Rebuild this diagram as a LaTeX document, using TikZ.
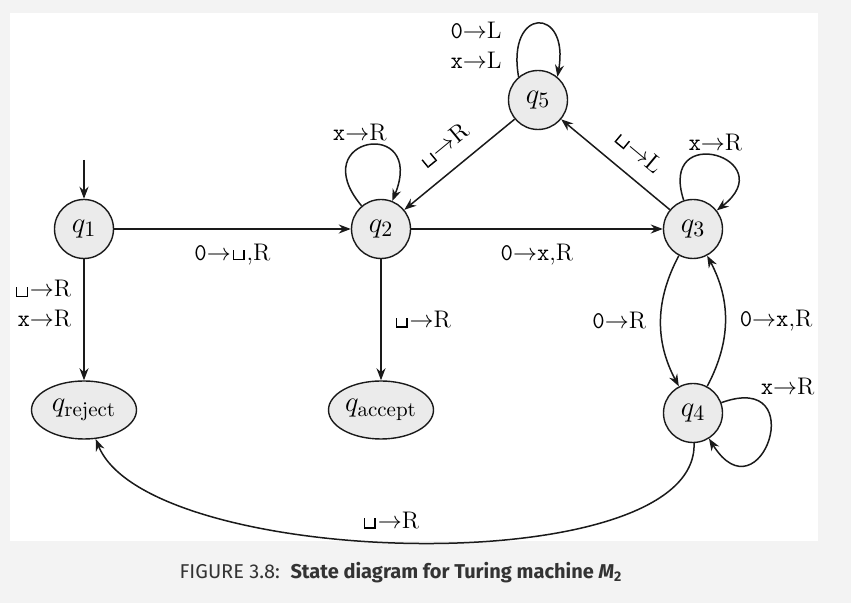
\documentclass[tikz,border=0pt]{standalone}
\usepackage{fontspec}
\newfontfamily\capfont{Fira Sans}
\usetikzlibrary{arrows.meta,positioning,shapes.geometric}
\definecolor{tmfill}{HTML}{EBEBEB}
\definecolor{tmpage}{HTML}{F3F3F3}
\definecolor{tmline}{HTML}{1A1A1A}
\definecolor{tmcap}{HTML}{333333}
\newcommand{\tmblank}{\kern0.08em\vrule height0.42em depth0pt width0.06em\vrule height0.06em depth0pt width0.38em\vrule height0.42em depth0pt width0.06em\kern0.08em}
\newcommand{\tmove}[2]{#1$\rightarrow$#2}

\begin{document}
\begin{tikzpicture}[
    x=1pt,y=1pt,
    state/.style={circle,draw=tmline,fill=tmfill,line width=0.7pt,minimum size=29.5pt,inner sep=0pt,font=\fontsize{15}{18}\selectfont},
    halt/.style={ellipse,draw=tmline,fill=tmfill,line width=0.7pt,minimum width=52.5pt,minimum height=29pt,inner sep=0pt,font=\fontsize{15}{18}\selectfont},
    trans/.style={-{Stealth[length=6pt,width=4.5pt]},line width=0.75pt,draw=tmline},
    lbl/.style={font=\fontsize{12}{15}\selectfont,inner sep=2pt}
  ]
    % page and panel
    \useasboundingbox (-42,114.5) rectangle (383.5,-187);
    \fill[tmpage] (-42,114.5) rectangle (383.5,-187);
    \fill[white] (-37,108) rectangle (367,-156);

    % states
    \node[state] (q1) {$q_1$};
    \node[state,on grid,right=148.5pt of q1] (q2) {$q_2$};
    \node[state,on grid,right=156pt of q2] (q3) {$q_3$};
    \node[state,on grid,above right=64.5pt and 78.5pt of q2] (q5) {$q_5$};
    \node[state,on grid,below=92pt of q3] (q4) {$q_4$};
    \node[halt,on grid,below=90.5pt of q1] (qrej) {$q_{\mathrm{reject}}$};
    \node[halt,on grid,below=90.5pt of q2] (qacc) {$q_{\mathrm{accept}}$};
    \coordinate[on grid,above=34.5pt of q1] (init);

    % transitions
    \draw[trans] (init) -- (q1);
    \draw[trans] (q1) -- node[lbl,below=5pt] {\tmove{\texttt{0}}{\tmblank,R}} (q2);
    \draw[trans] (q2) -- node[lbl,below=5pt] {\tmove{\texttt{0}}{\texttt{x},R}} (q3);
    \draw[trans] (q1) -- node[lbl,left=4pt,align=right,pos=0.37] {\tmove{\tmblank}{R}\\\tmove{\texttt{x}}{R}} (qrej);
    \draw[trans] (q2) -- node[lbl,right=4pt] {\tmove{\tmblank}{R}} (qacc);
    \draw[trans] (q2) to[out=130,in=68,looseness=7.5] node[lbl,above,xshift=-4pt] {\tmove{\texttt{x}}{R}} (q2);
    \draw[trans] (q3) to[out=108,in=38,looseness=6.2] node[lbl,above] {\tmove{\texttt{x}}{R}} (q3);
    \draw[trans] (q5.130) to[out=100,in=80,looseness=4.75] node[lbl,left=6pt,pos=0.18,align=right] {\tmove{\texttt{0}}{L}\\\tmove{\texttt{x}}{L}} (q5.50);
    \draw[trans] (q3) -- node[lbl,sloped,above=6pt,pos=0.43] {\tmove{\tmblank}{L}} (q5);
    \draw[trans] (q5) -- node[lbl,sloped,above=6pt] {\tmove{\tmblank}{R}} (q2);
    \draw[trans] (q3) to[bend right=28] node[lbl,left=5pt] {\tmove{\texttt{0}}{R}} (q4);
    \draw[trans] (q4) to[bend right=28] node[lbl,right=5pt] {\tmove{\texttt{0}}{\texttt{x},R}} (q3);
    \draw[trans] (q4) to[out=20,in=-58,looseness=6.5] node[lbl,above right,pos=0.17] {\tmove{\texttt{x}}{R}} (q4);
    \draw[trans] (q4) to[out=-88,in=-68,looseness=0.6] node[lbl,above=4pt,pos=0.53] {\tmove{\tmblank}{R}} (qrej);

    % caption
    \node[font=\capfont\fontsize{10}{12}\selectfont,text=tmcap] (cap) at (158.5,-172) {FIGURE 3.8:\ \ {\bfseries State diagram for Turing machine {\itshape M}\textsubscript{2}}};
  \end{tikzpicture}
\end{document}
